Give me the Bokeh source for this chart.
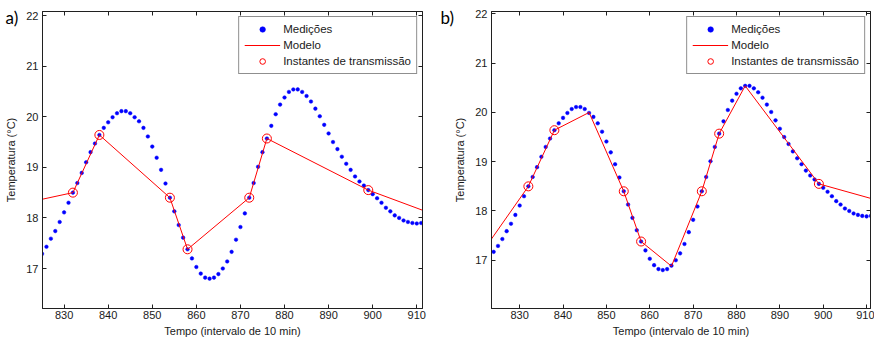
from bokeh.plotting import figure
from bokeh.models import (LinearAxis, FixedTicker, Range1d, Legend,
                          LegendItem)
from bokeh.layouts import row
from bokeh.embed import file_html
from bokeh.resources import INLINE

# ---- data -------------------------------------------------------------
time = list(range(824, 912))
temp = [17.17, 17.29, 17.43, 17.59, 17.74, 17.92, 18.11, 18.30, 18.50, 18.69,
        18.89, 19.10, 19.30, 19.47, 19.64, 19.78, 19.89, 19.99, 20.07, 20.11,
        20.11, 20.07, 19.99, 19.91, 19.78, 19.61, 19.41, 19.19, 18.95, 18.68,
        18.40, 18.13, 17.86, 17.61, 17.38, 17.20, 17.03, 16.90, 16.82, 16.80,
        16.82, 16.89, 17.00, 17.14, 17.33, 17.57, 17.82, 18.09, 18.40, 18.69,
        19.01, 19.30, 19.57, 19.82, 20.05, 20.24, 20.38, 20.49, 20.54, 20.54,
        20.49, 20.41, 20.30, 20.16, 20.01, 19.84, 19.67, 19.50, 19.36, 19.21,
        19.07, 18.95, 18.82, 18.72, 18.64, 18.55, 18.47, 18.39, 18.30, 18.20,
        18.13, 18.05, 18.00, 17.95, 17.92, 17.90, 17.89, 17.90]

trans_t = [832, 838, 854, 858, 872, 876, 899]
trans_y = [temp[time.index(t)] for t in trans_t]

model_a_t = [824, 832, 838, 854, 858, 872, 876, 899, 912]
model_a_y = [18.35, 18.50, 19.64, 18.40, 17.38, 18.40, 19.57, 18.55, 18.13]

model_b_t = [823, 832, 838, 846, 854, 858, 865, 872, 876, 882, 899, 912]
model_b_y = [17.37, 18.50, 19.64, 20.00, 18.40, 17.38, 16.88, 18.40, 19.57,
             20.54, 18.55, 18.23]

x_ticks = [830, 840, 850, 860, 870, 880, 890, 900, 910]
y_ticks = [17, 18, 19, 20, 21, 22]

labels = ["Medições", "Modelo", "Instantes de transmissão"]
x_title = "Tempo (intervalo de 10 min)"
y_title = "Temperatura (°C)"
panel_tags = ["a)", "b)"]

FONT = "Liberation Sans"
H = 340
TOP = 11
BOTTOM = 32


def style_axis(ax, labels_on=True, ticks=None):
    ax.axis_line_color = "#202020"
    ax.axis_line_width = 1
    ax.major_tick_in = 4
    ax.major_tick_out = 0
    ax.major_tick_line_color = "#202020"
    ax.minor_tick_line_color = None
    ax.major_label_text_font = FONT
    ax.major_label_text_color = "#1a1a1a"
    if labels_on:
        ax.major_label_text_font_size = "11px"
        ax.axis_label_text_font = FONT
        ax.axis_label_text_font_size = "11px"
        ax.axis_label_text_font_style = "normal"
        ax.axis_label_text_color = "#1a1a1a"
    else:
        ax.major_label_overrides = {t: "" for t in ticks}
        ax.major_label_text_font_size = "1px"
        ax.major_label_standoff = 0


def make_panel(xr, yr, mt, my, width, bl, br, tag, tag_dx):
    p = figure(width=width, height=H, x_range=Range1d(*xr),
               y_range=Range1d(*yr), output_backend="svg",
               toolbar_location=None, min_border_left=bl,
               min_border_right=br, min_border_top=TOP,
               min_border_bottom=BOTTOM)
    p.grid.visible = False
    p.outline_line_color = "#202020"
    p.background_fill_color = "white"
    p.border_fill_color = "white"

    # panel tag ("a)" / "b)") drawn as the plot title, pulled down beside
    # the frame so that it takes no vertical space
    p.title.text = "\n" + tag
    p.title.align = "left"
    p.title.offset = tag_dx
    p.title.standoff = -33
    p.title.vertical_align = "bottom"
    p.title.text_font = "Lato"
    p.title.text_font_size = "17px"
    p.title.text_font_style = "normal"
    p.title.text_color = "black"

    p.xaxis.ticker = FixedTicker(ticks=x_ticks)
    p.yaxis.ticker = FixedTicker(ticks=y_ticks)
    p.xaxis.axis_label = x_title
    p.yaxis.axis_label = y_title
    style_axis(p.xaxis[0])
    style_axis(p.yaxis[0])
    p.xaxis.major_label_standoff = 2
    p.xaxis.axis_label_standoff = 3
    p.yaxis.major_label_standoff = 4
    p.yaxis.axis_label_standoff = 6

    top = LinearAxis(ticker=FixedTicker(ticks=x_ticks))
    right = LinearAxis(ticker=FixedTicker(ticks=y_ticks))
    style_axis(top, False, x_ticks)
    style_axis(right, False, y_ticks)
    p.add_layout(top, "above")
    p.add_layout(right, "right")

    r_meas = p.scatter(time, temp, size=3.6, marker="circle",
                       fill_color="#0000ff", line_color="#0000ff",
                       line_width=0.5)
    r_mod = p.line(mt, my, line_color="#ff0000", line_width=1)
    r_tr = p.scatter(trans_t, trans_y, size=9, marker="circle",
                     fill_color=None, line_color="#ff0000", line_width=1)

    leg = Legend(items=[LegendItem(label=labels[0], renderers=[r_meas]),
                        LegendItem(label=labels[1], renderers=[r_mod]),
                        LegendItem(label=labels[2], renderers=[r_tr])],
                 location="top_right")
    leg.border_line_color = "#202020"
    leg.border_line_width = 1
    leg.background_fill_color = "white"
    leg.background_fill_alpha = 1
    leg.label_text_font = FONT
    leg.label_text_font_size = "11.5px"
    leg.label_text_color = "#1a1a1a"
    leg.margin = 5
    leg.padding = 5
    leg.spacing = 2
    leg.glyph_width = 36
    leg.glyph_height = 14
    leg.label_height = 14
    leg.label_standoff = 3
    p.add_layout(leg)
    return p


pa = make_panel((825.1, 911.3), (16.21, 22.08), model_a_t, model_a_y,
                440, 42, 18, panel_tags[0], -37)
pb = make_panel((823.5, 910.9), (16.02, 22.05), model_b_t, model_b_y,
                434, 51, 4, panel_tags[1], -51)

layout = row(pa, pb)
open("out.html", "w").write(file_html(layout, INLINE))
